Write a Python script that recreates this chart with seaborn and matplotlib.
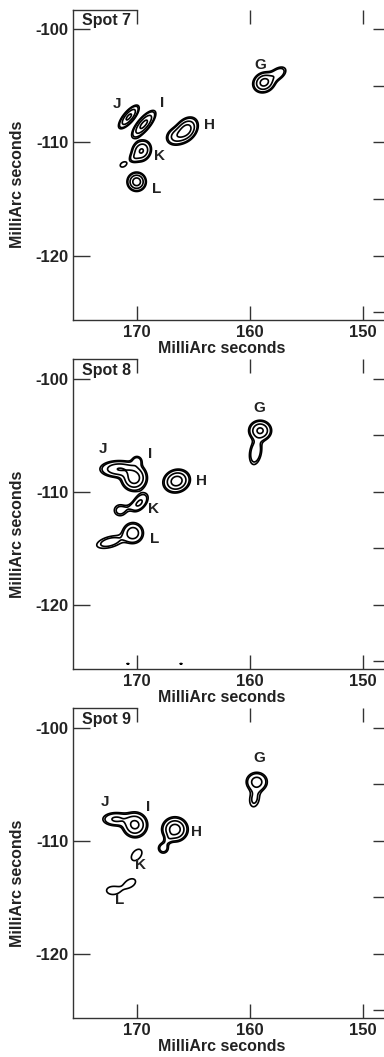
import numpy as np
import matplotlib
matplotlib.use("Agg")
import matplotlib.pyplot as plt
from matplotlib.ticker import FixedLocator, FixedFormatter
import seaborn as sns

sns.set_theme(style="ticks")
plt.rcParams["font.family"] = ["Liberation Sans", "DejaVu Sans"]
plt.rcParams["font.weight"] = "bold"
plt.rcParams["axes.unicode_minus"] = False

panel_titles = ["Spot 7", "Spot 8", "Spot 9"]

x_ticks = [170, 160, 150]
x_tick_labels = ["170", "160", "150"]
y_ticks = [-100, -110, -120]
y_tick_labels = ["-100", "-110", "-120"]
y_ticks_right = [-100, -105, -110, -115, -120, -125]

x_limits = (175.66, 147.96)
y_limits = (-125.65, -98.3)

# Relative brightness levels at which contours are drawn
contour_levels = [0.10, 0.15, 0.35, 0.70]

# Emission components: centre (mas), peak, major/minor width (mas), angle (deg)
spot7_cx = [158.75, 157.55, 165.65, 166.55, 170.72, 169.4, 169.6, 170.25, 171.2, 170.03]
spot7_cy = [-104.7, -103.95, -108.9, -109.45, -107.75, -108.4, -110.75, -111.35, -111.95, -113.48]
spot7_amp = [0.90, 0.30, 1.00, 0.45, 0.80, 0.85, 0.75, 0.20, 0.145, 1.00]
spot7_smaj = [0.50, 0.55, 0.60, 0.50, 0.64, 0.74, 0.50, 0.30, 0.35, 0.40]
spot7_smin = [0.42, 0.32, 0.42, 0.40, 0.24, 0.27, 0.42, 0.25, 0.23, 0.40]
spot7_pa = [150, 145, 130, 150, 130, 130, 120, 135, 150, 0]

spot8_cx = [159.1, 159.5, 171.6, 170.0, 170.25, 166.49, 169.75, 171.5, 170.6, 170.35, 172.4, 170.8, 166.1]
spot8_cy = [-104.6, -106.5, -108.0, -107.3, -108.8, -109.06, -110.95, -111.64, -111.35, -113.65, -114.45, -125.2, -125.2]
spot8_amp = [0.80, 0.30, 0.70, 0.25, 1.00, 1.00, 0.38, 0.20, 0.10, 0.55, 0.22, 0.105, 0.105]
spot8_smaj = [0.50, 0.75, 0.85, 0.30, 0.55, 0.58, 0.58, 0.42, 0.55, 0.50, 0.95, 0.30, 0.30]
spot8_smin = [0.45, 0.35, 0.38, 0.30, 0.55, 0.48, 0.33, 0.40, 0.22, 0.50, 0.38, 0.03, 0.03]
spot8_pa = [0, 100, 0, 0, 0, 160, 130, 0, 160, 0, 165, 0, 0]

spot9_cx = [159.4, 159.6, 171.85, 170.18, 166.64, 167.67, 167.2, 170.03, 172.15, 170.6]
spot9_cy = [-104.8, -106.3, -108.1, -108.6, -109.0, -110.67, -109.85, -111.26, -114.4, -113.75]
spot9_amp = [0.50, 0.18, 0.40, 0.85, 1.00, 0.24, 0.15, 0.14, 0.14, 0.14]
spot9_smaj = [0.52, 0.65, 0.70, 0.55, 0.55, 0.32, 0.42, 0.70, 0.65, 0.62]
spot9_smin = [0.47, 0.38, 0.35, 0.55, 0.52, 0.32, 0.22, 0.45, 0.42, 0.40]
spot9_pa = [0, 100, 0, 0, 0, 0, 125, 130, 0, 150]

# Component name labels
label_names = ["G", "J", "I", "H", "K", "L"]
spot7_lx = [159.05, 171.74, 167.81, 163.6, 168.03, 168.26]
spot7_ly = [-103.15, -106.62, -106.48, -108.45, -111.18, -114.12]
spot8_lx = [159.18, 172.98, 168.85, 164.27, 168.56, 168.4]
spot8_ly = [-102.59, -106.26, -106.7, -109.06, -111.55, -114.2]
spot9_lx = [159.18, 172.83, 169.0, 164.72, 169.73, 171.57]
spot9_ly = [-102.73, -106.56, -107.0, -109.2, -112.14, -115.23]

panels = [
    (spot7_cx, spot7_cy, spot7_amp, spot7_smaj, spot7_smin, spot7_pa, spot7_lx, spot7_ly),
    (spot8_cx, spot8_cy, spot8_amp, spot8_smaj, spot8_smin, spot8_pa, spot8_lx, spot8_ly),
    (spot9_cx, spot9_cy, spot9_amp, spot9_smaj, spot9_smin, spot9_pa, spot9_lx, spot9_ly),
]


def brightness(X, Y, cx, cy, amp, smaj, smin, pa):
    Z = np.zeros_like(X)
    for x0, y0, a, s1, s2, ang in zip(cx, cy, amp, smaj, smin, pa):
        t = np.deg2rad(ang)
        dx, dy = X - x0, Y - y0
        u = dx * np.cos(t) + dy * np.sin(t)
        v = -dx * np.sin(t) + dy * np.cos(t)
        Z += a * np.exp(-0.5 * ((u / s1) ** 2 + (v / s2) ** 2))
    return Z


gx = np.linspace(147.5, 176.0, 700)
gy = np.linspace(-126.0, -98.0, 700)
GX, GY = np.meshgrid(gx, gy)

W, H = 384, 1057
fig = plt.figure(figsize=(W / 100, H / 100), dpi=100)

panel_tops = [10.0, 359.3, 708.3]
panel_h = 309.5
ax_left, ax_right = 73.0, 386.0
ink = "#222222"

for title, top, data in zip(panel_titles, panel_tops, panels):
    cx, cy, amp, smaj, smin, pa, lx, ly = data
    ax = fig.add_axes([ax_left / W, 1 - (top + panel_h) / H,
                       (ax_right - ax_left) / W, panel_h / H])
    Z = brightness(GX, GY, cx, cy, amp, smaj, smin, pa)
    ax.contour(GX, GY, Z, levels=contour_levels, colors="black", linewidths=1.2)

    for name, x, y in zip(label_names, lx, ly):
        ax.text(x, y, name, ha="center", va="center", fontsize=11,
                fontweight="bold", color=ink)

    ax.set_xlim(*x_limits)
    ax.set_ylim(*y_limits)

    for side in ["left", "bottom", "top", "right"]:
        ax.spines[side].set_color("#333333")
        ax.spines[side].set_linewidth(1.0)
    ax.spines["top"].set_bounds(x_limits[0], 170)

    ax.xaxis.set_major_locator(FixedLocator(x_ticks))
    ax.xaxis.set_major_formatter(FixedFormatter(x_tick_labels))
    ax.yaxis.set_major_locator(FixedLocator(y_ticks))
    ax.yaxis.set_major_formatter(FixedFormatter(y_tick_labels))
    ax.tick_params(axis="x", which="major", direction="in", length=10, width=1.0,
                   top=True, bottom=True, labelsize=12, pad=4.0, color="#333333")
    ax.tick_params(axis="y", which="major", direction="in", length=12, width=1.0,
                   left=True, right=False, labelsize=12, pad=3.5, color="#333333")
    for lab in ax.get_xticklabels() + ax.get_yticklabels():
        lab.set_fontweight("bold")
        lab.set_color(ink)

    ax.set_xlabel("MilliArc seconds", fontsize=11.5, fontweight="bold", color=ink)
    ax.set_ylabel("MilliArc seconds", fontsize=11.5, fontweight="bold", color=ink)
    ax.xaxis.set_label_coords(0.476, -0.068)
    ax.yaxis.set_label_coords(-0.153, 0.436)

    ax.text(174.9, -98.6, title, ha="left", va="top", fontsize=11.5,
            fontweight="bold", color=ink)

    twin = ax.twinx()
    twin.set_ylim(*y_limits)
    twin.yaxis.set_major_locator(FixedLocator(y_ticks_right))
    twin.tick_params(axis="y", direction="in", length=9.5, width=1.0,
                     labelright=False, color="#333333")
    for side in ["left", "bottom", "top", "right"]:
        twin.spines[side].set_visible(False)
    twin.spines["right"].set_visible(True)
    twin.spines["right"].set_color("#333333")

fig.savefig("out.png", dpi=100)
